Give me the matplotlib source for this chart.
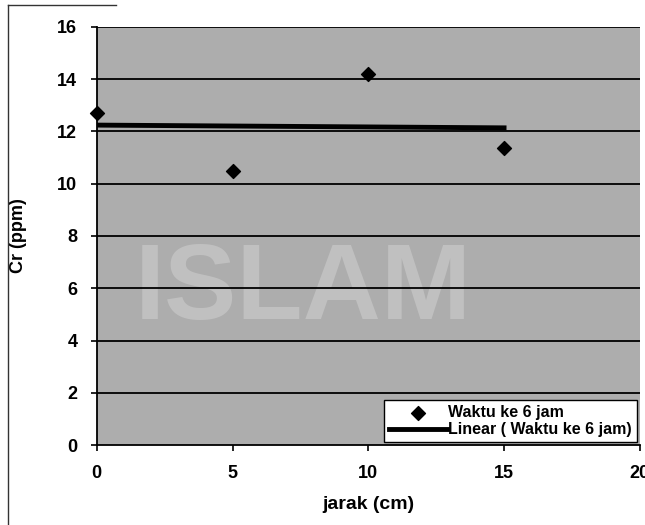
import matplotlib.pyplot as plt
import numpy as np

# data
jarak = [0, 5, 10, 15]
cr = [12.7, 10.5, 14.2, 11.35]
x_ticks = [0, 5, 10, 15, 20]
y_ticks = [0, 2, 4, 6, 8, 10, 12, 14, 16]

plt.rcParams['font.family'] = ['Liberation Sans', 'DejaVu Sans']
plt.rcParams['font.weight'] = 'bold'

fig = plt.figure(figsize=(6.45, 5.25), dpi=100)
ax = fig.add_axes([0.150, 0.152, 0.842, 0.797])
ax.set_facecolor('#adadad')

# watermark
ax.text(7.6, 5.9, 'ISLAM', fontsize=78, color='#d0d0d0', alpha=0.55,
        ha='center', va='center', zorder=1)

for yv in y_ticks[1:]:
    ax.axhline(yv, color='black', linewidth=1.3, zorder=2)

ax.scatter(jarak, cr, marker='D', s=50, color='black', zorder=4,
           label='Waktu ke 6 jam', clip_on=False)

# linear trend line
m, c = np.polyfit(jarak, cr, 1)
xs = np.array([jarak[0], jarak[-1]])
ax.plot(xs, m * xs + c, color='black', linewidth=3.5, zorder=3,
        label='Linear ( Waktu ke 6 jam)')

ax.set_xlim(0, 20)
ax.set_ylim(0, 16)
ax.set_xticks(x_ticks)
ax.set_yticks(y_ticks)
ax.tick_params(labelsize=13, direction='out', length=4, width=1.2, pad=10)
ax.spines['top'].set_visible(False)
ax.spines['right'].set_visible(False)
ax.spines['left'].set_linewidth(1.3)
ax.spines['bottom'].set_linewidth(1.3)

ax.set_xlabel('jarak (cm)', fontsize=14, fontweight='bold', labelpad=10)
ax.set_ylabel('Cr (ppm)', fontsize=13, fontweight='bold', labelpad=22)

leg = ax.legend(loc='lower right', fontsize=11.5, frameon=True, fancybox=False,
                edgecolor='black', framealpha=1, borderpad=0.3,
                handlelength=3.6, handletextpad=0.1, labelspacing=0.15,
                borderaxespad=0.2)
leg.get_frame().set_linewidth(1)

# outer chart frame (left edge)
fig.add_artist(plt.Line2D([0.012, 0.012], [0.0, 0.99], color='#333333',
                          linewidth=1, transform=fig.transFigure))
fig.add_artist(plt.Line2D([0.012, 0.18], [0.99, 0.99], color='#333333',
                          linewidth=1, transform=fig.transFigure))

fig.savefig('out.png', dpi=100)
